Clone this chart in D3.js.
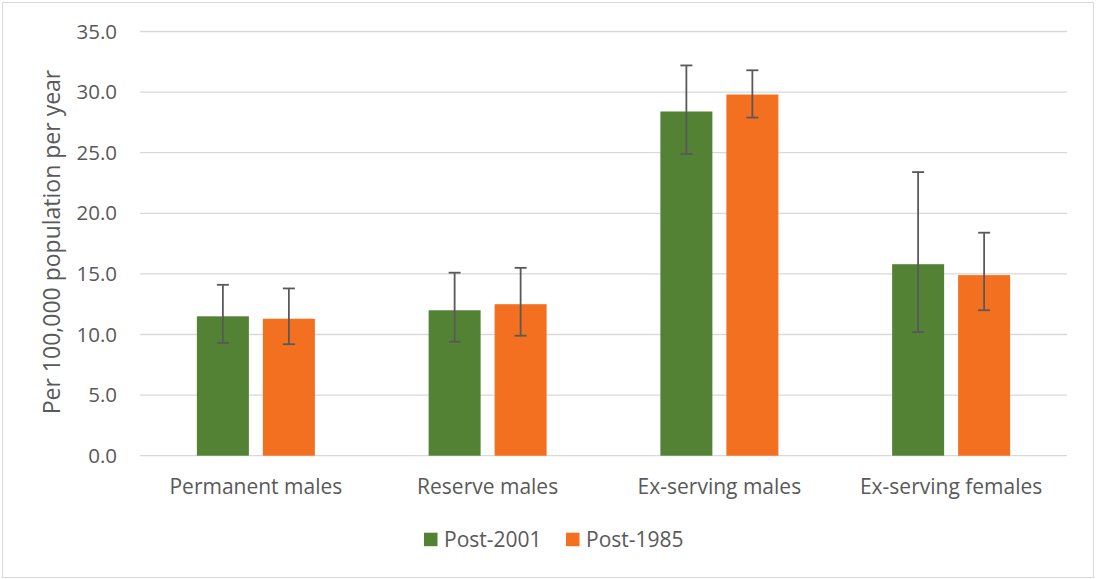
<!DOCTYPE html>
<html>
<head>
<meta charset="utf-8">
<script src="https://cdn.jsdelivr.net/npm/d3@7"></script>
<style>
  body { margin: 0; background: #fff; }
  text { font-family: "Open Sans", "Noto Sans", sans-serif; fill: #595959; }
</style>
</head>
<body>
<svg id="chart" width="1096" height="579"></svg>
<script>
// data
const categories = ['Permanent males', 'Reserve males', 'Ex-serving males', 'Ex-serving females']
const seriesNames = ['Post-2001', 'Post-1985']
const colors = ['#548235', '#f37021']

const post2001 = [11.5, 12.0, 28.4, 15.8]
const post2001Low = [9.3, 9.4, 24.9, 10.2]
const post2001High = [14.1, 15.1, 32.2, 23.4]

const post1985 = [11.3, 12.5, 29.8, 14.9]
const post1985Low = [9.2, 9.9, 27.9, 12.0]
const post1985High = [13.8, 15.5, 31.8, 18.4]

const yTicks = [0, 5, 10, 15, 20, 25, 30, 35]

function main() {
  const svg = d3.select('#chart')

  // outer frame
  svg.append('rect')
    .attr('x', 2.5).attr('y', 2.5)
    .attr('width', 1091).attr('height', 575)
    .attr('fill', '#fff')
    .attr('stroke', '#d9d9d9')

  const left = 140, right = 1067, top = 31.5, bottom = 455.7

  const y = d3.scaleLinear().domain([0, 35]).range([bottom, top])
  const x = d3.scaleBand().domain(categories).range([left, right])
  const inner = d3.scaleBand().domain(seriesNames).range([-59, 59]).paddingInner(0.212)

  // gridlines
  svg.append('g')
    .selectAll('line')
    .data(yTicks)
    .join('line')
    .attr('x1', left).attr('x2', right)
    .attr('y1', d => y(d)).attr('y2', d => y(d))
    .attr('stroke', '#d9d9d9')
    .attr('stroke-width', 1.3)

  // y axis labels
  const yAxis = svg.append('g')
    .attr('transform', `translate(${left - 5},0)`)
    .call(d3.axisLeft(y).tickValues(yTicks).tickFormat(d3.format('.1f')).tickSize(0).tickPadding(18))
  yAxis.select('.domain').remove()
  yAxis.selectAll('text')
    .style('font-size', '20.5px')
    .attr('fill', '#595959')
    .style('font-family', '"Open Sans", sans-serif')

  // y title
  svg.append('text')
    .attr('transform', `translate(60,${(67 + 417) / 2}) rotate(-90)`)
    .attr('text-anchor', 'middle')
    .style('font-size', '23px')
    .text('Per 100,000 population per year')

  const series = [
    { name: seriesNames[0], vals: post2001, lo: post2001Low, hi: post2001High, color: colors[0] },
    { name: seriesNames[1], vals: post1985, lo: post1985Low, hi: post1985High, color: colors[1] }
  ]

  const cx = c => x(c) + x.bandwidth() / 2

  series.forEach(s => {
    const g = svg.append('g')
    g.selectAll('rect')
      .data(categories)
      .join('rect')
      .attr('x', c => cx(c) + inner(s.name))
      .attr('width', inner.bandwidth())
      .attr('y', (c, i) => y(s.vals[i]))
      .attr('height', (c, i) => bottom - y(s.vals[i]))
      .attr('fill', s.color)
  })

  // error bars
  series.forEach(s => {
    const g = svg.append('g')
      .attr('stroke', '#595959')
      .attr('stroke-width', 1.8)
    const mid = c => cx(c) + inner(s.name) + inner.bandwidth() / 2
    g.selectAll('.v')
      .data(categories)
      .join('line')
      .attr('x1', mid).attr('x2', mid)
      .attr('y1', (c, i) => y(s.lo[i]))
      .attr('y2', (c, i) => y(s.hi[i]))
    g.selectAll('.t')
      .data(categories)
      .join('line')
      .attr('x1', c => mid(c) - 6).attr('x2', c => mid(c) + 6)
      .attr('y1', (c, i) => y(s.hi[i]))
      .attr('y2', (c, i) => y(s.hi[i]))
    g.selectAll('.b')
      .data(categories)
      .join('line')
      .attr('x1', c => mid(c) - 6).attr('x2', c => mid(c) + 6)
      .attr('y1', (c, i) => y(s.lo[i]))
      .attr('y2', (c, i) => y(s.lo[i]))
  })

  // x labels
  svg.append('g')
    .selectAll('text')
    .data(categories)
    .join('text')
    .attr('x', cx)
    .attr('y', 494)
    .attr('text-anchor', 'middle')
    .style('font-size', '21px')
    .text(d => d)

  // legend
  const legend = svg.append('g')
  const legX = [424, 566]
  series.forEach((s, i) => {
    legend.append('rect')
      .attr('x', legX[i]).attr('y', 532.7)
      .attr('width', 13.5).attr('height', 13.5)
      .attr('fill', s.color)
    legend.append('text')
      .attr('x', legX[i] + 20)
      .attr('y', 547)
      .style('font-size', '21px')
      .text(s.name)
  })
}

main()
</script>
</body>
</html>
